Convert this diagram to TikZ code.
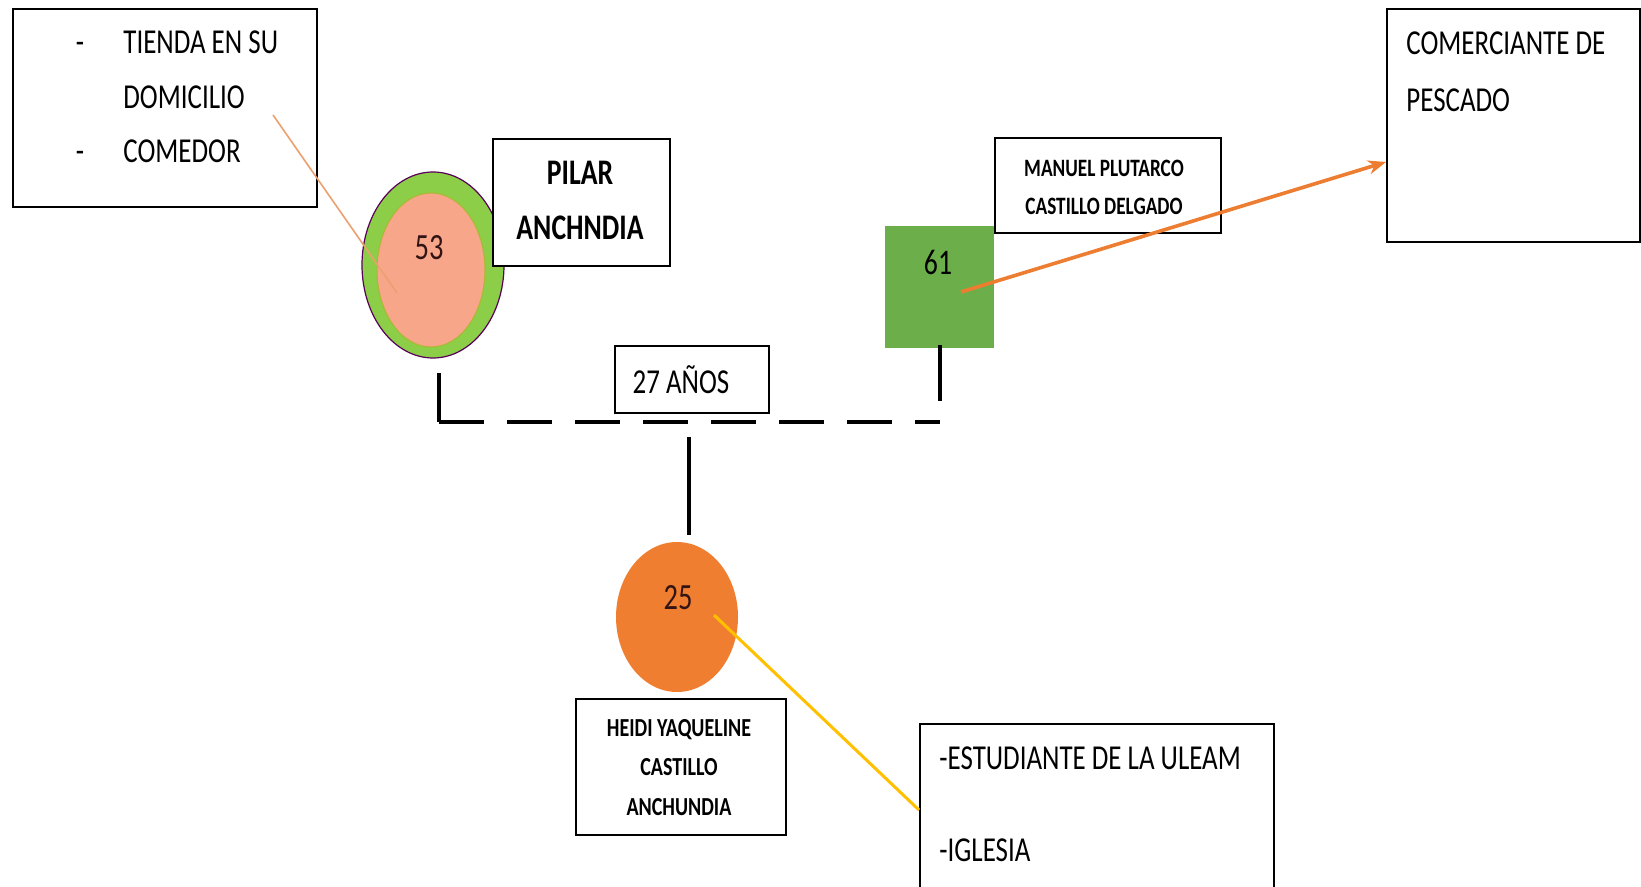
\documentclass[tikz,border=0pt]{standalone}
\usepackage{fontspec}
\setmainfont[FakeStretch=0.77]{Carlito}
\usetikzlibrary{arrows.meta,shapes.geometric}
\definecolor{ringgreen}{RGB}{140,206,72}
\definecolor{ringdark}{RGB}{110,160,60}
\definecolor{salmon}{RGB}{247,166,138}
\definecolor{sqgreen}{RGB}{108,174,74}
\definecolor{childorange}{RGB}{240,126,48}
\definecolor{arroworange}{RGB}{237,125,49}
\definecolor{tanline}{RGB}{236,160,112}
\definecolor{gold}{RGB}{255,192,0}
\definecolor{numdark}{RGB}{50,20,20}
\tikzset{
  box/.style={draw=black, line width=1pt, fill=white, inner sep=0pt},
  reg/.style={inner sep=0pt, font=\fontsize{17.5}{20}\selectfont},
  boldbig/.style={inner sep=0pt, font=\fontsize{18}{20}\selectfont\bfseries},
  boldsmall/.style={inner sep=0pt, font=\fontsize{12.5}{14}\selectfont\bfseries},
  boldsmaller/.style={inner sep=0pt, font=\fontsize{13}{14}\selectfont\bfseries},
  num/.style={inner sep=0pt, text=numdark},
  link/.style={line width=2pt},
}
\begin{document}
\begin{tikzpicture}[x=0.5pt,y=-0.5pt]
\useasboundingbox (0,0) rectangle (1641,887);
\clip (0,0) rectangle (1641,887);
\fill[white] (0,0) rectangle (1641,887);

% ---- top-left box
\node[box, minimum width=152pt, minimum height=99pt] (tienda) at (165,108) {};
\node[reg, anchor=base] (d1) at (80,54) {-};
\node[reg, anchor=base west] (t1) at (123,54) {TIENDA EN SU};
\node[reg, anchor=base west] (t2) at (123,109) {DOMICILIO};
\node[reg, anchor=base] (d2) at (80,163) {-};
\node[reg, anchor=base west] (t3) at (123,163) {COMEDOR};

% ---- Pilar circle
\node[ellipse, draw=violet!70!black, line width=0.6pt, fill=ringgreen,
      minimum width=71pt, minimum height=93pt, inner sep=0pt] (pilar) at (433,265) {};
\node[ellipse, fill=salmon, draw=ringgreen!70!orange, line width=0.5pt,
      minimum width=54pt, minimum height=77pt, inner sep=0pt] (pilarin) at (431,270) {};
\node[num, anchor=base, font=\fontsize{18.5}{20}\selectfont] (n53) at (429,259.5) {53};
\coordinate (tanA) at (273,115);
\coordinate (tanB) at (397,293);
\draw[tanline, line width=0.8pt] (tanA) -- (tanB);

% ---- Pilar name box
\node[box, minimum width=88.5pt, minimum height=63.5pt] (pilarbox) at (581.5,202.5) {};
\node[boldbig, anchor=base] (p1) at (580,185) {PILAR};
\node[boldbig, anchor=base] (p2) at (580,240) {ANCHNDIA};

% ---- male square
\node[fill=sqgreen, minimum width=54.5pt, minimum height=61pt, inner sep=0pt] (male) at (939.5,287) {};
\node[inner sep=0pt, anchor=base, font=\fontsize{18}{20}\selectfont] (n61) at (938,274.5) {61};

% ---- Manuel box
\node[box, minimum width=113pt, minimum height=47.5pt] (manuel) at (1108,185.5) {};
\node[boldsmall, anchor=base] (m1) at (1104,177) {MANUEL PLUTARCO};
\node[boldsmall, anchor=base] (m2) at (1104,215) {CASTILLO DELGADO};

% ---- Comerciante box
\node[box, minimum width=126.5pt, minimum height=116.5pt] (comer) at (1513.5,125.5) {};
\node[reg, anchor=base west] (c1) at (1406,55) {COMERCIANTE DE};
\node[reg, anchor=base west] (c2) at (1406,112) {PESCADO};
\coordinate (arrS) at (961,292);
\draw[arroworange, line width=1.8pt, -{Stealth[length=9pt,width=7pt]}] (arrS) -- (comer.west |- 0,162);

% ---- union lines
\coordinate (lTop) at (439,373);
\coordinate (lCor) at (439,422);
\coordinate (rTop) at (940,345);
\coordinate (rBot) at (940,401);
\coordinate (rCor) at (940,422);
\draw[link] (lTop) -- (lCor);
\draw[link, dash pattern=on 22.5pt off 11.5pt] (lCor) -- (rCor);
\draw[link] (rTop) -- (rBot);

% ---- years box
\node[box, minimum width=77pt, minimum height=33.5pt] (years) at (692,379.5) {};
\node[reg, anchor=base] (y1) at (681,393) {27 AÑOS};

% ---- child line
\coordinate (cTop) at (689,437);
\coordinate (cBot) at (689,535);
\draw[link] (cTop) -- (cBot);

% ---- child circle
\node[ellipse, fill=childorange, minimum width=61pt, minimum height=75pt, inner sep=0pt] (child) at (677,617) {};
\node[num, anchor=base, font=\fontsize{18.5}{20}\selectfont] (n25) at (678,609.5) {25};

% ---- Heidi box
\node[box, minimum width=105pt, minimum height=68pt] (heidi) at (681,767) {};
\node[boldsmaller, anchor=base] (h1) at (679,736.5) {HEIDI YAQUELINE};
\node[boldsmaller, anchor=base] (h2) at (679,775.5) {CASTILLO};
\node[boldsmaller, anchor=base] (h3) at (679,815.5) {ANCHUNDIA};

% ---- Estudiante box
\node[box, minimum width=177pt, minimum height=90pt] (estud) at (1097,814) {};
\node[reg, anchor=base west] (e1) at (939,769) {-ESTUDIANTE DE LA ULEAM};
\node[reg, anchor=base west] (e2) at (939,861) {-IGLESIA};
\coordinate (yelA) at (714,615);
\draw[gold, line width=1.5pt] (yelA) -- (estud.west |- 0,810);
\end{tikzpicture}
\end{document}
